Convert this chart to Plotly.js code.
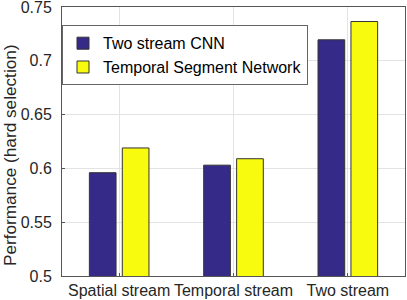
<!DOCTYPE html>
<html>
<head>
<meta charset="utf-8">
<script src="https://cdn.plot.ly/plotly-3.0.1.min.js"></script>
<style>
  html, body { margin: 0; padding: 0; background: #fff; }
  #chart { width: 407px; height: 300px; }
</style>
</head>
<body>
<div id="chart"></div>
<script>
const categories = ["Spatial stream", "Temporal stream", "Two stream"];
const seriesNames = ["Two stream CNN", "Temporal Segment Network"];
const twoStreamCNN = [0.596, 0.603, 0.7195];
const temporalSegmentNetwork = [0.619, 0.609, 0.7365];
const yTickValues = [0.5, 0.55, 0.6, 0.65, 0.7, 0.75];
const yTickLabels = ["0.5", "0.55", "0.6", "0.65", "0.7", "0.75"];
const yTitle = "Performance (hard selection)";

const font = "'Liberation Sans', Arial, Helvetica, sans-serif";
const textColor = "#262626";

const traces = [
  {
    type: "bar", name: seriesNames[0], x: categories, y: twoStreamCNN,
    marker: { color: "#352a87", line: { color: "#333333", width: 1 } },
    hoverinfo: "skip"
  },
  {
    type: "bar", name: seriesNames[1], x: categories, y: temporalSegmentNetwork,
    marker: { color: "#f9fb0e", line: { color: "#333333", width: 1 } },
    hoverinfo: "skip"
  }
];

const layout = {
  width: 407, height: 300,
  margin: { l: 62, r: 2, t: 7, b: 24, pad: 0 },
  paper_bgcolor: "#ffffff", plot_bgcolor: "#ffffff",
  barmode: "group", bargap: 0.424, bargroupgap: 0.19,
  font: { family: font, size: 16, color: textColor },
  showlegend: true,
  legend: {
    x: 0, y: 0.932, xanchor: "left", yanchor: "top",
    bgcolor: "#ffffff", bordercolor: "#666666", borderwidth: 1,
    font: { family: font, size: 16, color: "#000000" },
    tracegroupgap: 0, itemwidth: 30
  },
  xaxis: {
    type: "category", range: [-0.5, 2.5],
    showgrid: true, gridcolor: "#e3e3e3", gridwidth: 1,
    showline: true, linecolor: "#555555", linewidth: 1, mirror: true,
    ticks: "inside", ticklen: 3, tickcolor: "#555555",
    tickfont: { family: font, size: 16, color: textColor },
    zeroline: false, fixedrange: true
  },
  yaxis: {
    range: [0.5, 0.75],
    tickvals: yTickValues, ticktext: yTickLabels,
    showgrid: true, gridcolor: "#e3e3e3", gridwidth: 1,
    showline: true, linecolor: "#555555", linewidth: 1, mirror: true,
    ticks: "inside", ticklen: 3, tickcolor: "#555555",
    ticklabelstandoff: 6, ticklabeloverflow: "allow",
    tickfont: { family: font, size: 16, color: textColor },
    zeroline: false, fixedrange: true
  },
  annotations: [
    {
      text: yTitle, xref: "paper", yref: "paper",
      x: -0.152, y: 0.449, xanchor: "center", yanchor: "middle",
      textangle: -90, showarrow: false,
      font: { family: font, size: 17.2, color: textColor }
    }
  ]
};

Plotly.newPlot("chart", traces, layout, { displayModeBar: false, staticPlot: true });
</script>
</body>
</html>
